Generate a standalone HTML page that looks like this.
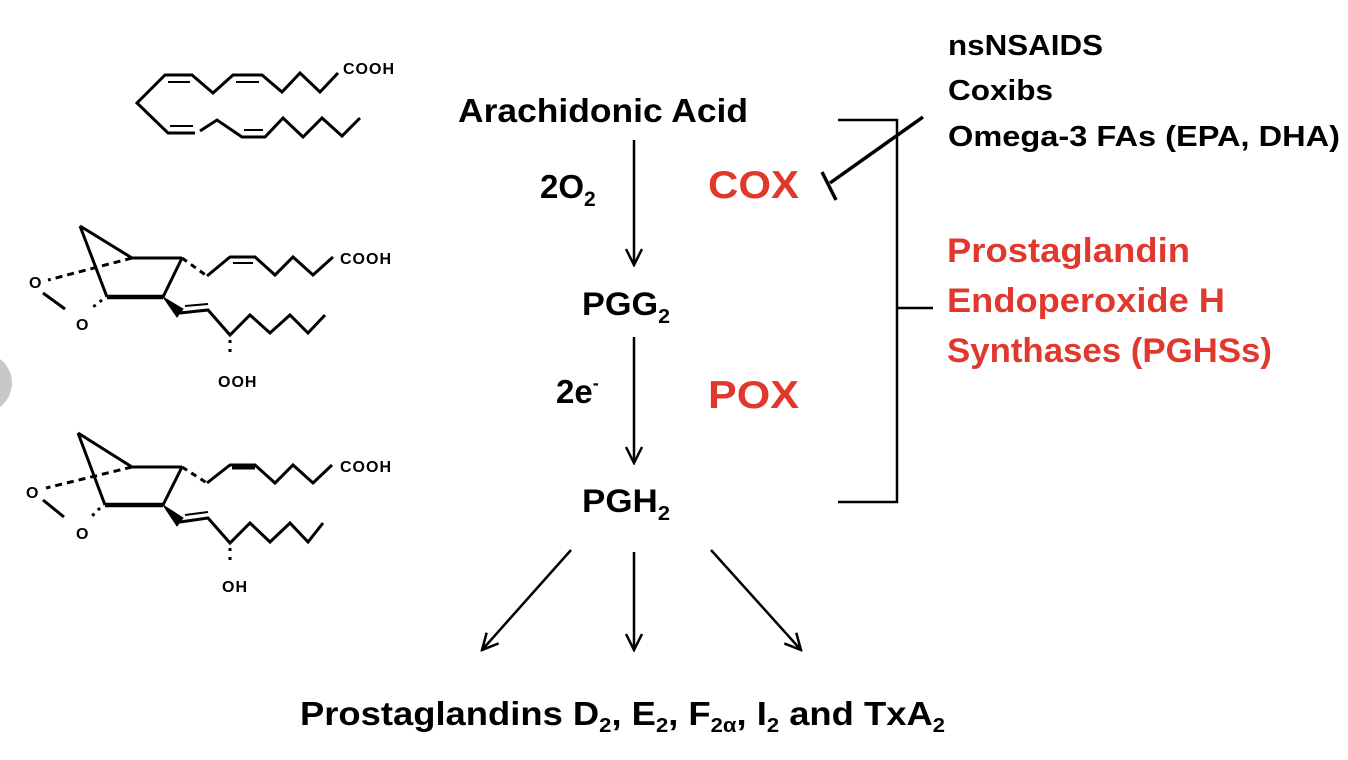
<!DOCTYPE html>
<html><head><meta charset="utf-8"><style>
html,body{margin:0;padding:0;background:#fff;}
svg{display:block;}
text{font-family:"Liberation Sans",Arial,sans-serif;font-weight:bold;}
</style></head><body>
<svg width="1348" height="760" viewBox="0 0 1348 760" xmlns="http://www.w3.org/2000/svg">
<defs>
<marker id="ah" viewBox="0 0 20 20" refX="18" refY="10" markerWidth="20" markerHeight="20" markerUnits="userSpaceOnUse" orient="auto">
<path d="M2,2 L18,10 L2,18" fill="none" stroke="#000" stroke-width="2.5"/>
</marker>
</defs>
<circle cx="-18" cy="383" r="30" fill="#c8c8c8"/>

<g fill="none" stroke="#000" stroke-width="3" stroke-linejoin="miter">
<polyline points="338,73 320,92 300,73 282,92 262,75 233,75 213,93 192,75 165,75 137,103 168,133 195,133"/>
<polyline points="200,131 217,120 242,137 265,137 283,118 303,137 322,118 342,136 360,118"/>
<line x1="168" y1="82" x2="190" y2="82" stroke-width="2"/>
<line x1="236" y1="82" x2="259" y2="82" stroke-width="2"/>
<line x1="170" y1="126" x2="193" y2="126" stroke-width="2"/>
<line x1="244" y1="130" x2="263" y2="130" stroke-width="2"/>

<line x1="80" y1="226" x2="132" y2="258"/>
<line x1="80" y1="226" x2="107" y2="297"/>
<line x1="132" y1="258" x2="182" y2="258"/>
<line x1="182" y1="258" x2="163" y2="297"/>
<line x1="107" y1="297" x2="163" y2="297" stroke-width="4.5"/>
<line x1="132" y1="258" x2="48" y2="280" stroke-dasharray="7,5"/>
<line x1="43" y1="293" x2="65" y2="309"/>
<line x1="102" y1="300" x2="93" y2="307" stroke-dasharray="3,5"/>
<line x1="182" y1="258" x2="207" y2="276" stroke-dasharray="6,5"/>
<polyline points="207,276 230,257 255,257 275,275 293,257 313,275 333,257"/>
<line x1="233" y1="263" x2="253" y2="263" stroke-width="2"/>
<polygon points="163,297 177,317 183,309" fill="#000" stroke-width="1"/>
<polyline points="180,313 208,310 230,335 250,315 270,333 290,315 308,333 325,315"/>
<line x1="185" y1="306" x2="208" y2="304" stroke-width="2"/>
<line x1="230" y1="340" x2="230" y2="358" stroke-dasharray="3,6"/>

<line x1="78" y1="433" x2="132" y2="467"/>
<line x1="78" y1="433" x2="105" y2="505"/>
<line x1="132" y1="467" x2="182" y2="467"/>
<line x1="182" y1="467" x2="163" y2="505"/>
<line x1="105" y1="505" x2="163" y2="505" stroke-width="4.5"/>
<line x1="132" y1="467" x2="46" y2="488" stroke-dasharray="7,5"/>
<line x1="43" y1="500" x2="64" y2="517"/>
<line x1="100" y1="508" x2="92" y2="516" stroke-dasharray="3,5"/>
<line x1="182" y1="467" x2="207" y2="483" stroke-dasharray="6,5"/>
<polyline points="207,483 230,465 255,465 275,483 293,465 313,483 332,465"/>
<line x1="232" y1="467" x2="255" y2="467" stroke-width="5"/>
<polygon points="163,505 177,526 183,518" fill="#000" stroke-width="1"/>
<polyline points="180,522 208,518 230,543 250,523 270,542 290,523 308,542 323,523"/>
<line x1="185" y1="515" x2="208" y2="512" stroke-width="2"/>
<line x1="230" y1="548" x2="230" y2="566" stroke-dasharray="3,6"/>
</g>
<g font-size="16" fill="#000" letter-spacing="1">
<text x="343" y="74">COOH</text>
<text x="340" y="264">COOH</text>
<text x="340" y="472">COOH</text>
<text x="218" y="387">OOH</text>
<text x="222" y="592">OH</text>
<text x="29" y="288">O</text>
<text x="76" y="330">O</text>
<text x="26" y="498">O</text>
<text x="76" y="539">O</text>
</g>

<g stroke="#000" stroke-width="2.5" fill="none">
<line x1="634" y1="140" x2="634" y2="265" marker-end="url(#ah)"/>
<line x1="634" y1="337" x2="634" y2="463" marker-end="url(#ah)"/>
<line x1="571" y1="550" x2="482" y2="650" marker-end="url(#ah)"/>
<line x1="634" y1="552" x2="634" y2="650" marker-end="url(#ah)"/>
<line x1="711" y1="550" x2="801" y2="650" marker-end="url(#ah)"/>
<polyline points="838,120 897,120 897,502 838,502"/>
<line x1="897" y1="308" x2="933" y2="308"/>
<line x1="923" y1="117" x2="830" y2="183" stroke-width="3.5"/>
<line x1="822" y1="172" x2="836" y2="200" stroke-width="3.5"/>
</g>

<g fill="#000">
<text x="458" y="122" font-size="33" textLength="290" lengthAdjust="spacingAndGlyphs">Arachidonic Acid</text>
<text x="540" y="198" font-size="33">2O<tspan font-size="21" dy="8">2</tspan></text>
<text x="582" y="315" font-size="32" textLength="88" lengthAdjust="spacingAndGlyphs">PGG<tspan font-size="20" dy="8">2</tspan></text>
<text x="556" y="403" font-size="33">2e<tspan font-size="18" dy="-14">-</tspan></text>
<text x="582" y="512" font-size="32" textLength="88" lengthAdjust="spacingAndGlyphs">PGH<tspan font-size="20" dy="8">2</tspan></text>
<text x="300" y="725" font-size="33" textLength="645" lengthAdjust="spacingAndGlyphs">Prostaglandins D<tspan font-size="20" dy="7">2</tspan><tspan dy="-7">, E</tspan><tspan font-size="20" dy="7">2</tspan><tspan dy="-7">, F</tspan><tspan font-size="20" dy="7">2α</tspan><tspan dy="-7">, I</tspan><tspan font-size="20" dy="7">2</tspan><tspan dy="-7"> and TxA</tspan><tspan font-size="20" dy="7">2</tspan></text>
<text x="948" y="55" font-size="29" textLength="155" lengthAdjust="spacingAndGlyphs">nsNSAIDS</text>
<text x="948" y="100" font-size="29" textLength="105" lengthAdjust="spacingAndGlyphs">Coxibs</text>
<text x="948" y="146" font-size="29" textLength="392" lengthAdjust="spacingAndGlyphs">Omega-3 FAs (EPA, DHA)</text>
</g>
<g fill="#e0382c">
<text x="708" y="198" font-size="39" textLength="91" lengthAdjust="spacingAndGlyphs">COX</text>
<text x="708" y="408" font-size="39" textLength="91" lengthAdjust="spacingAndGlyphs">POX</text>
<text x="947" y="262" font-size="34" textLength="243" lengthAdjust="spacingAndGlyphs">Prostaglandin</text>
<text x="947" y="312" font-size="34" textLength="278" lengthAdjust="spacingAndGlyphs">Endoperoxide H</text>
<text x="947" y="362" font-size="34" textLength="325" lengthAdjust="spacingAndGlyphs">Synthases (PGHSs)</text>
</g>
</svg>
</body></html>
